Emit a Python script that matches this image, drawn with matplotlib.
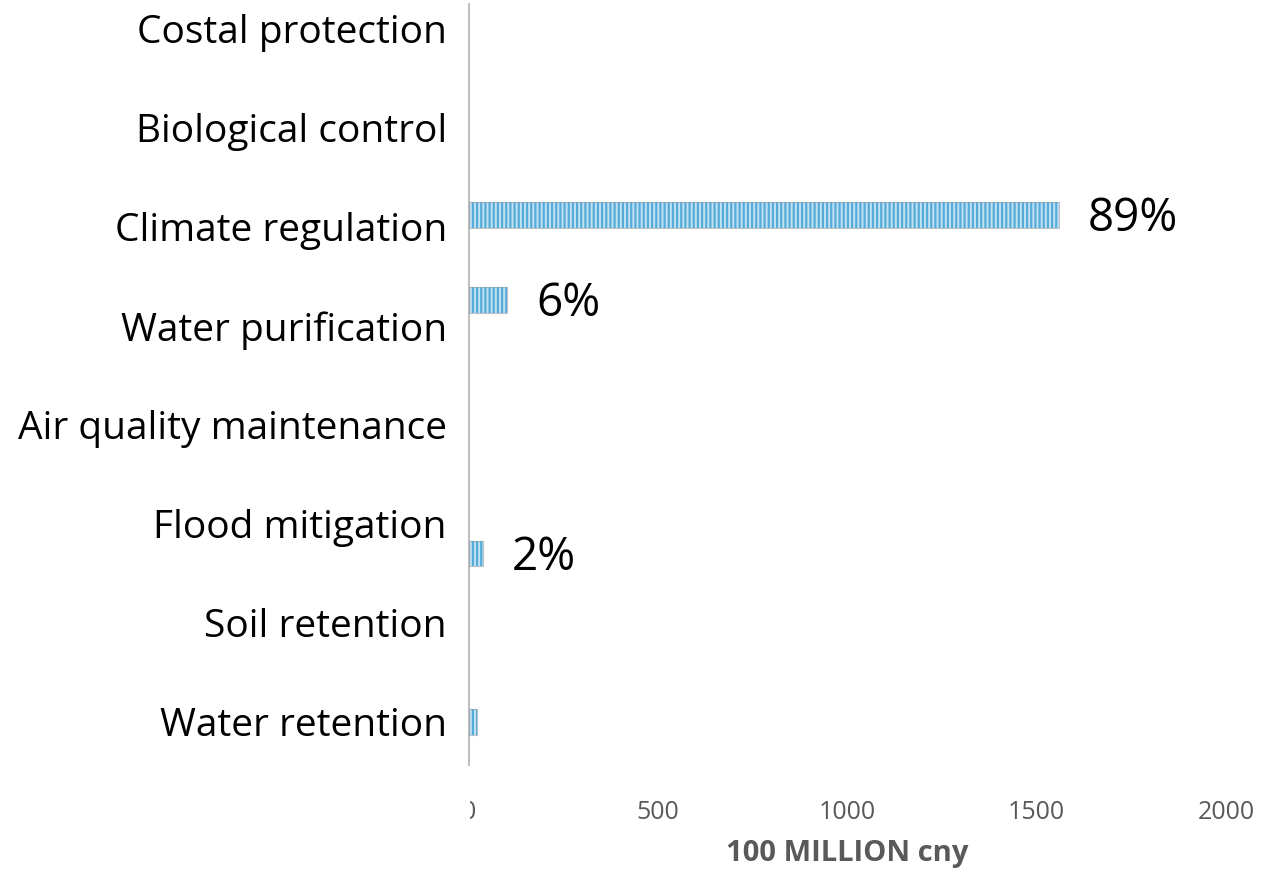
import matplotlib
matplotlib.use("Agg")
import matplotlib.pyplot as plt
from matplotlib.transforms import Bbox

# categories listed bottom to top, as they sit on the axis
categories = ["Water retention", "Soil retention", "Flood mitigation",
              "Air quality maintenance", "Water purification",
              "Climate regulation", "Biological control", "Costal protection"]
values = [21, 0, 37, 0, 100, 1559, 0, 0]          # 100 million cny
pct_labels = ["", "", "2%", "", "6%", "89%", "", ""]
x_ticks = [0, 500, 1000, 1500, 2000]

# the bars in the source do not sit exactly on their category rows
bar_shift = [0.0, 0.0, -0.30, 0.0, 0.26, 0.12, 0.0, 0.0]

plt.rcParams["font.family"] = ["Open Sans", "DejaVu Sans"]
plt.rcParams["hatch.linewidth"] = 1.6

fig = plt.figure(figsize=(12.86, 8.82), dpi=100)
ax = fig.add_axes([0.3647, 0.1327, 0.5886, 0.8628])

ypos = [i + s for i, s in enumerate(bar_shift)]
bar_h = 0.26

# striped fill, then a thin grey outline on top
ax.barh(ypos, values, height=bar_h, color="#c3e2f3", edgecolor="#55acd9",
        hatch="||||", linewidth=0, zorder=2)
ax.barh(ypos, values, height=bar_h, color="none",
        edgecolor=[(0.55, 0.6, 0.65, 0.6) if v > 0 else "none" for v in values],
        linewidth=0.8, zorder=3)

for y, v, lab in zip(ypos, values, pct_labels):
    if lab:
        ax.annotate(lab, (v, y), xytext=(21, -3), textcoords="offset points",
                    ha="left", va="center", fontsize=33, color="black")

ax.set_xlim(0, 2000)
ax.set_ylim(-0.434, 7.25)
ax.set_xticks(x_ticks)
ax.set_xticklabels([str(t) for t in x_ticks])
ax.set_yticks(range(len(categories)))
ax.set_yticklabels(categories, fontsize=28, color="black")
ax.tick_params(axis="y", length=0, pad=16)
ax.tick_params(axis="x", length=0, pad=25, labelsize=18, labelcolor="#595959")

for side in ["top", "right", "bottom"]:
    ax.spines[side].set_visible(False)
ax.spines["left"].set_color("#bfbfbf")
ax.spines["left"].set_linewidth(1.5)

ax.set_xlabel("100 MILLION cny", fontsize=21, fontweight="bold",
              color="#595959", labelpad=10)

# the first tick label is cut by the plot area in the original
fig.canvas.draw()
lbl0 = ax.get_xticklabels()[0]
x0 = ax.transData.transform((0, 0))[0] + 1
lbl0.set_clip_box(Bbox([[x0, 0], [fig.bbox.width, fig.bbox.height]]))
lbl0.set_clip_on(True)

fig.savefig("out.png", dpi=100)
